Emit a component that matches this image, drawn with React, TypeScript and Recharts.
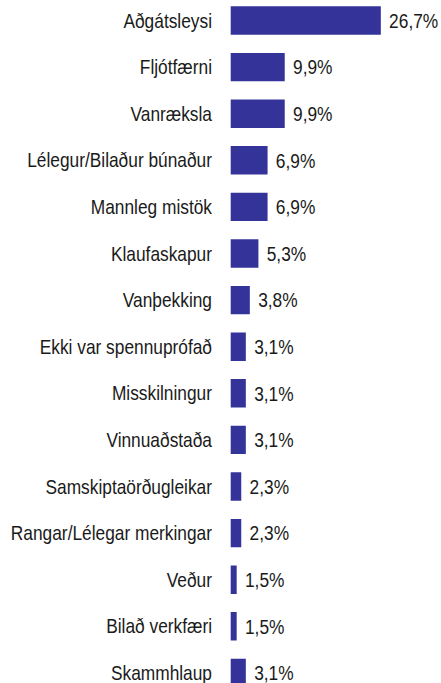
import React from 'react';
import { BarChart, Bar, XAxis, YAxis, LabelList } from 'recharts';

const categories = [
  'Aðgátsleysi',
  'Fljótfærni',
  'Vanræksla',
  'Lélegur/Bilaður búnaður',
  'Mannleg mistök',
  'Klaufaskapur',
  'Vanþekking',
  'Ekki var spennuprófað',
  'Misskilningur',
  'Vinnuaðstaða',
  'Samskiptaörðugleikar',
  'Rangar/Lélegar merkingar',
  'Veður',
  'Bilað verkfæri',
  'Skammhlaup',
];

const shares = [26.7, 9.9, 9.9, 6.9, 6.9, 5.3, 3.8, 3.1, 3.1, 3.1, 2.3, 2.3, 1.5, 1.5, 3.1];

const data = categories.map((name, i) => ({ name, value: shares[i] }));

// narrow look: Liberation Sans squeezed horizontally
const FONT = '"Liberation Sans", Arial, sans-serif';
const SQUEEZE = 0.845;

const fmt = (v: any) => `${Number(v).toFixed(1).replace('.', ',')}%`;

const NarrowTick = (props: any) => {
  const { x, y, payload } = props;
  return (
    <g transform={`translate(${x},${y})`}>
      <text
        transform={`scale(${SQUEEZE},1)`}
        textAnchor="end"
        dy="0.355em"
        fontSize={20.5}
        fontFamily={FONT}
        fill="#1a1a1a"
      >
        {payload.value}
      </text>
    </g>
  );
};

const ValueLabel = (props: any) => {
  const { x, y, width, height, value } = props;
  return (
    <g transform={`translate(${x + width + 7},${y + height / 2})`}>
      <text
        transform={`scale(${SQUEEZE},1)`}
        textAnchor="start"
        dy="0.355em"
        fontSize={20.5}
        fontFamily={FONT}
        fill="#1a1a1a"
      >
        {fmt(value)}
      </text>
    </g>
  );
};

export default function App() {
  return (
    <div style={{ position: 'absolute', left: 0, top: -10 }}>
      <BarChart
        width={441}
        height={710}
        data={data}
        layout="vertical"
        margin={{ top: 7, right: 40, left: 0, bottom: 4 }}
      >
        <XAxis type="number" domain={[0, 30]} hide />
        <YAxis
          type="category"
          dataKey="name"
          width={229.4}
          axisLine={false}
          tickLine={false}
          tickSize={0}
          tickMargin={17.4}
          interval={0}
          tick={<NarrowTick />}
        />
        <Bar
          dataKey="value"
          fill="#333399"
          stroke="#ffffff"
          strokeWidth={2.6}
          barSize={31}
          isAnimationActive={false}
        >
          <LabelList dataKey="value" content={<ValueLabel />} />
        </Bar>
      </BarChart>
    </div>
  );
}
